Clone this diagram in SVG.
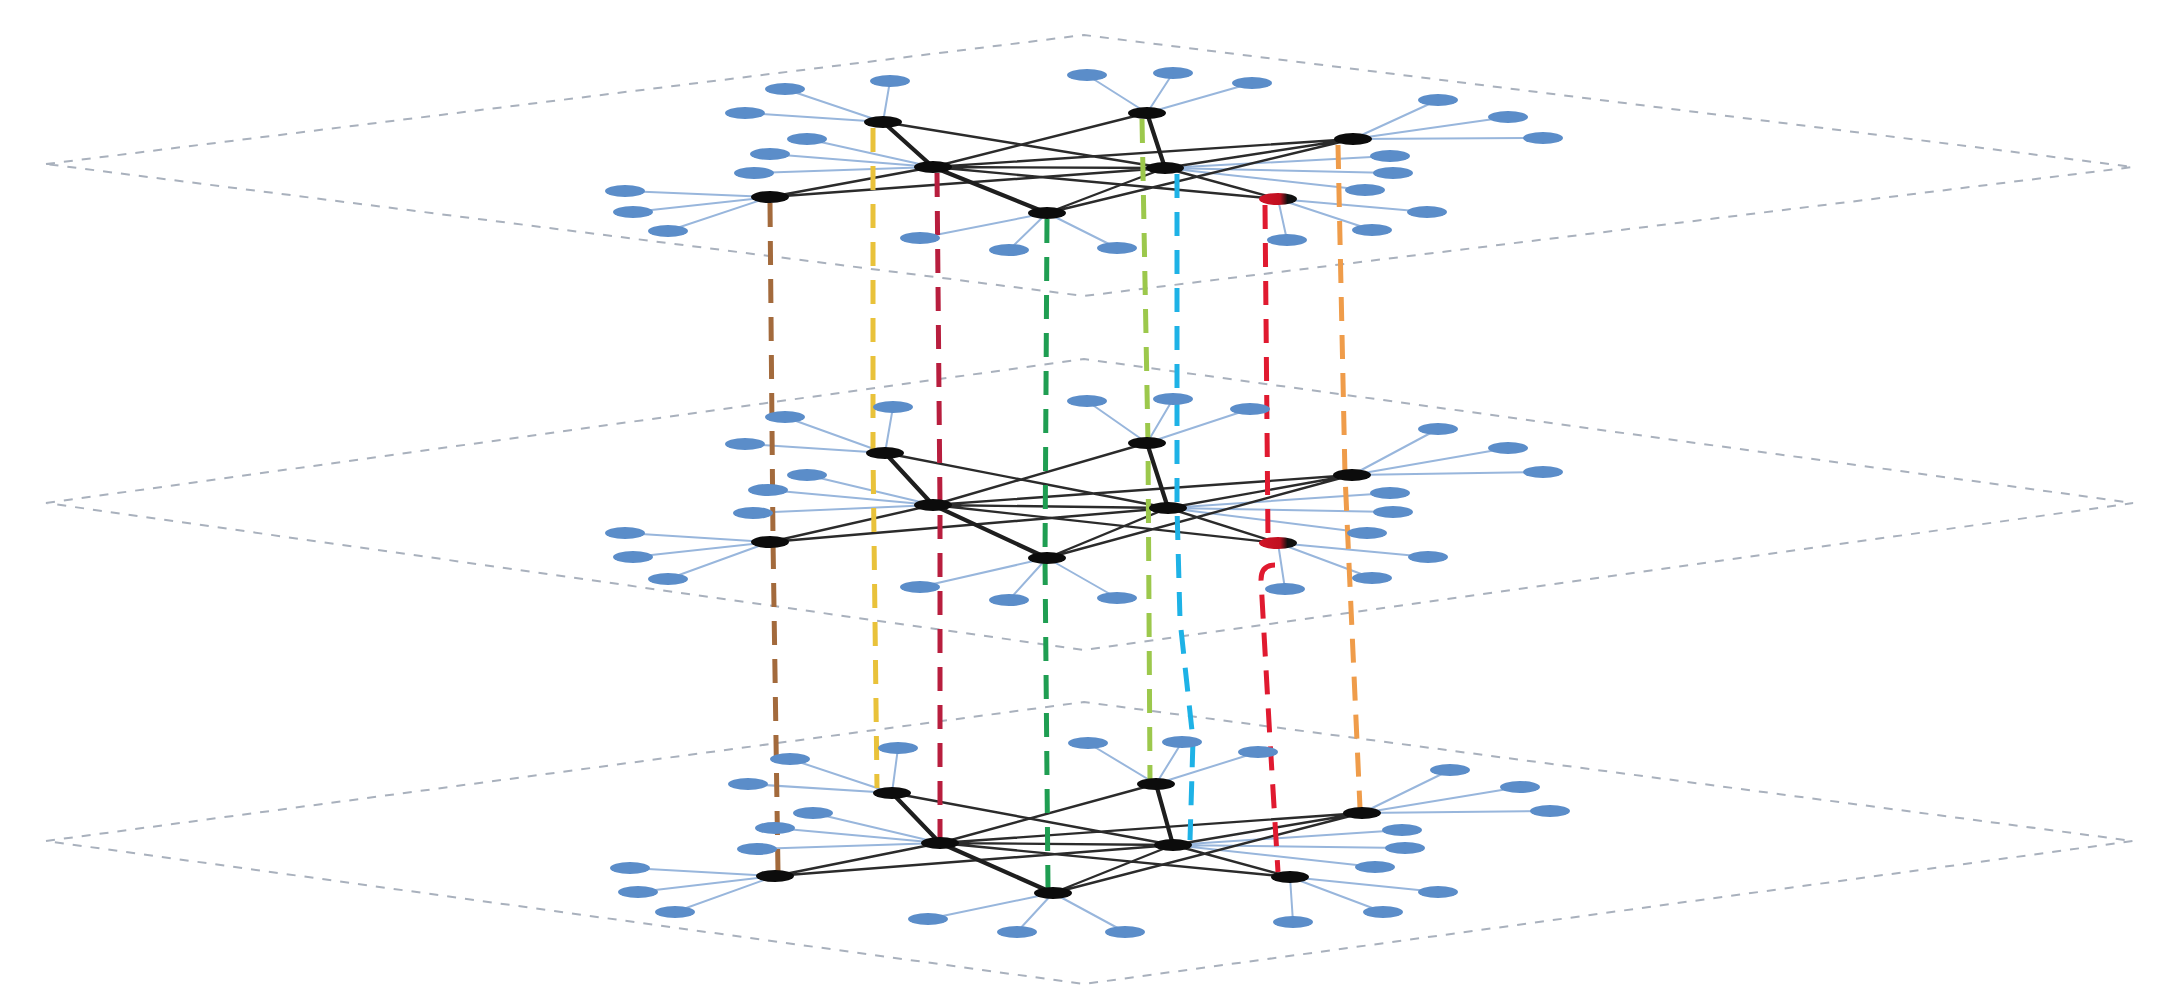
<svg xmlns="http://www.w3.org/2000/svg" width="2179" height="1003" viewBox="0 0 2179 1003">
<style>
.plane{fill:none;stroke:#a9b1bd;stroke-width:2;stroke-dasharray:9 9}
.le{stroke:#98b6dc;stroke-width:2;fill:none}
.he{stroke:#2b2b2b;stroke-width:2.4;fill:none}
.ht{stroke:#1e1e1e;stroke-width:4.2;fill:none}
.vd{fill:none;stroke-width:5;stroke-dasharray:24 14}
.leaf{fill:#5b8dc9}
.hub{fill:#0c0c0c}
</style>
<defs>
<linearGradient id="rg" x1="0" x2="1" y1="0" y2="0"><stop offset="0" stop-color="#d01428"/><stop offset="0.55" stop-color="#c01020"/><stop offset="0.75" stop-color="#111"/></linearGradient>
</defs>
<rect width="2179" height="1003" fill="#fff"/>
<g id="planes">
<polygon class="plane" points="46,164 1084,35 2133,167 1084,296"/>
<polygon class="plane" points="46,503 1084,359 2133,503 1084,650"/>
<polygon class="plane" points="46,841 1084,702 2133,841 1084,984"/>
</g>
<g id="connectors">
<g id="leaf-edges">
<path class="le" d="M883,122L890,81M883,122L785,89M883,122L745,113M933,167L807,139M933,167L770,154M933,167L754,173M770,197L625,191M770,197L633,212M770,197L668,231M1047,213L920,238M1047,213L1009,250M1047,213L1117,248M1147,113L1087,75M1147,113L1173,73M1147,113L1252,83M1165,168L1390,156M1165,168L1393,173M1165,168L1365,190M1278,199L1427,212M1278,199L1372,230M1278,199L1287,240M1353,139L1438,100M1353,139L1508,117M1353,139L1543,138"/>
<path class="le" d="M885,453L893,407M885,453L785,417M885,453L745,444M933,505L807,475M933,505L768,490M933,505L753,513M770,542L625,533M770,542L633,557M770,542L668,579M1047,558L920,587M1047,558L1009,600M1047,558L1117,598M1147,443L1087,401M1147,443L1173,399M1147,443L1250,409M1168,508L1390,493M1168,508L1393,512M1168,508L1367,533M1278,543L1428,557M1278,543L1372,578M1278,543L1285,589M1352,475L1438,429M1352,475L1508,448M1352,475L1543,472"/>
<path class="le" d="M892,793L898,748M892,793L790,759M892,793L748,784M940,843L813,813M940,843L775,828M940,843L757,849M775,876L630,868M775,876L638,892M775,876L675,912M1053,893L928,919M1053,893L1017,932M1053,893L1125,932M1156,784L1088,743M1156,784L1182,742M1156,784L1258,752M1173,845L1402,830M1173,845L1405,848M1173,845L1375,867M1290,877L1438,892M1290,877L1383,912M1290,877L1293,922M1362,813L1450,770M1362,813L1520,787M1362,813L1550,811"/>
</g>
<g id="hub-edges">
<path class="he" d="M883,122L1165,168M933,167L1147,113M933,167L1165,168M933,167L1353,139M933,167L1278,199M770,197L933,167M770,197L1165,168M1047,213L1165,168M1047,213L1353,139M1165,168L1278,199M1165,168L1353,139"/>
<path class="ht" d="M883,122L933,167M933,167L1047,213M1147,113L1165,168"/>
<path class="he" d="M885,453L1168,508M933,505L1147,443M933,505L1168,508M933,505L1352,475M933,505L1278,543M770,542L933,505M770,542L1168,508M1047,558L1168,508M1047,558L1352,475M1168,508L1278,543M1168,508L1352,475"/>
<path class="ht" d="M885,453L933,505M933,505L1047,558M1147,443L1168,508"/>
<path class="he" d="M892,793L1173,845M940,843L1156,784M940,843L1173,845M940,843L1362,813M940,843L1290,877M775,876L940,843M775,876L1173,845M1053,893L1173,845M1053,893L1362,813M1173,845L1290,877M1173,845L1362,813"/>
<path class="ht" d="M892,793L940,843M940,843L1053,893M1156,784L1173,845"/>
</g>
<g id="interlayer">
<polyline class="vd" stroke="#a36a3c" points="770,203 773,540 778,872"/>
<polyline class="vd" stroke="#e9c23a" points="873,128 873,453 877,788"/>
<polyline class="vd" stroke="#b81e3e" points="937,173 940,505 940,838"/>
<polyline class="vd" stroke="#1f9e52" points="1047,219 1045,558 1048,888"/>
<polyline class="vd" stroke="#9cc84c" points="1142,119 1148,443 1150,780"/>
<polyline class="vd" stroke="#1eb2e6" points="1177,174 1177,508 1180,620 1193,740 1190,840"/>
<polyline class="vd" stroke="#e01a30" points="1265,205 1268,538"/>
<path class="vd" stroke="#e01a30" d="M1275,565 Q1261,565 1261,580 L1270,740 L1278,872"/>
<polyline class="vd" stroke="#ef9c4a" points="1338,145 1345,475 1360,808"/>
</g>
</g>
<g id="nodes">
<g id="L1-A"><ellipse class="hub" cx="883" cy="122" rx="19" ry="6"/></g>
<g id="L1-B"><ellipse class="hub" cx="933" cy="167" rx="19" ry="6"/></g>
<g id="L1-C"><ellipse class="hub" cx="770" cy="197" rx="19" ry="6"/></g>
<g id="L1-D"><ellipse class="hub" cx="1047" cy="213" rx="19" ry="6"/></g>
<g id="L1-E"><ellipse class="hub" cx="1147" cy="113" rx="19" ry="6"/></g>
<g id="L1-F"><ellipse class="hub" cx="1165" cy="168" rx="19" ry="6"/></g>
<g id="L1-G"><ellipse cx="1278" cy="199" rx="19" ry="6" fill="url(#rg)"/></g>
<g id="L1-H"><ellipse class="hub" cx="1353" cy="139" rx="19" ry="6"/></g>
<g id="L1-leaves">
<ellipse class="leaf" cx="890" cy="81" rx="20" ry="6"/><ellipse class="leaf" cx="785" cy="89" rx="20" ry="6"/><ellipse class="leaf" cx="745" cy="113" rx="20" ry="6"/>
<ellipse class="leaf" cx="807" cy="139" rx="20" ry="6"/><ellipse class="leaf" cx="770" cy="154" rx="20" ry="6"/><ellipse class="leaf" cx="754" cy="173" rx="20" ry="6"/>
<ellipse class="leaf" cx="625" cy="191" rx="20" ry="6"/><ellipse class="leaf" cx="633" cy="212" rx="20" ry="6"/><ellipse class="leaf" cx="668" cy="231" rx="20" ry="6"/>
<ellipse class="leaf" cx="920" cy="238" rx="20" ry="6"/><ellipse class="leaf" cx="1009" cy="250" rx="20" ry="6"/><ellipse class="leaf" cx="1117" cy="248" rx="20" ry="6"/>
<ellipse class="leaf" cx="1087" cy="75" rx="20" ry="6"/><ellipse class="leaf" cx="1173" cy="73" rx="20" ry="6"/><ellipse class="leaf" cx="1252" cy="83" rx="20" ry="6"/>
<ellipse class="leaf" cx="1390" cy="156" rx="20" ry="6"/><ellipse class="leaf" cx="1393" cy="173" rx="20" ry="6"/><ellipse class="leaf" cx="1365" cy="190" rx="20" ry="6"/>
<ellipse class="leaf" cx="1427" cy="212" rx="20" ry="6"/><ellipse class="leaf" cx="1372" cy="230" rx="20" ry="6"/><ellipse class="leaf" cx="1287" cy="240" rx="20" ry="6"/>
<ellipse class="leaf" cx="1438" cy="100" rx="20" ry="6"/><ellipse class="leaf" cx="1508" cy="117" rx="20" ry="6"/><ellipse class="leaf" cx="1543" cy="138" rx="20" ry="6"/>
</g>
<g id="L2-A"><ellipse class="hub" cx="885" cy="453" rx="19" ry="6"/></g>
<g id="L2-B"><ellipse class="hub" cx="933" cy="505" rx="19" ry="6"/></g>
<g id="L2-C"><ellipse class="hub" cx="770" cy="542" rx="19" ry="6"/></g>
<g id="L2-D"><ellipse class="hub" cx="1047" cy="558" rx="19" ry="6"/></g>
<g id="L2-E"><ellipse class="hub" cx="1147" cy="443" rx="19" ry="6"/></g>
<g id="L2-F"><ellipse class="hub" cx="1168" cy="508" rx="19" ry="6"/></g>
<g id="L2-G"><ellipse cx="1278" cy="543" rx="19" ry="6" fill="url(#rg)"/></g>
<g id="L2-H"><ellipse class="hub" cx="1352" cy="475" rx="19" ry="6"/></g>
<g id="L2-leaves">
<ellipse class="leaf" cx="893" cy="407" rx="20" ry="6"/><ellipse class="leaf" cx="785" cy="417" rx="20" ry="6"/><ellipse class="leaf" cx="745" cy="444" rx="20" ry="6"/>
<ellipse class="leaf" cx="807" cy="475" rx="20" ry="6"/><ellipse class="leaf" cx="768" cy="490" rx="20" ry="6"/><ellipse class="leaf" cx="753" cy="513" rx="20" ry="6"/>
<ellipse class="leaf" cx="625" cy="533" rx="20" ry="6"/><ellipse class="leaf" cx="633" cy="557" rx="20" ry="6"/><ellipse class="leaf" cx="668" cy="579" rx="20" ry="6"/>
<ellipse class="leaf" cx="920" cy="587" rx="20" ry="6"/><ellipse class="leaf" cx="1009" cy="600" rx="20" ry="6"/><ellipse class="leaf" cx="1117" cy="598" rx="20" ry="6"/>
<ellipse class="leaf" cx="1087" cy="401" rx="20" ry="6"/><ellipse class="leaf" cx="1173" cy="399" rx="20" ry="6"/><ellipse class="leaf" cx="1250" cy="409" rx="20" ry="6"/>
<ellipse class="leaf" cx="1390" cy="493" rx="20" ry="6"/><ellipse class="leaf" cx="1393" cy="512" rx="20" ry="6"/><ellipse class="leaf" cx="1367" cy="533" rx="20" ry="6"/>
<ellipse class="leaf" cx="1428" cy="557" rx="20" ry="6"/><ellipse class="leaf" cx="1372" cy="578" rx="20" ry="6"/><ellipse class="leaf" cx="1285" cy="589" rx="20" ry="6"/>
<ellipse class="leaf" cx="1438" cy="429" rx="20" ry="6"/><ellipse class="leaf" cx="1508" cy="448" rx="20" ry="6"/><ellipse class="leaf" cx="1543" cy="472" rx="20" ry="6"/>
</g>
<g id="L3-A"><ellipse class="hub" cx="892" cy="793" rx="19" ry="6"/></g>
<g id="L3-B"><ellipse class="hub" cx="940" cy="843" rx="19" ry="6"/></g>
<g id="L3-C"><ellipse class="hub" cx="775" cy="876" rx="19" ry="6"/></g>
<g id="L3-D"><ellipse class="hub" cx="1053" cy="893" rx="19" ry="6"/></g>
<g id="L3-E"><ellipse class="hub" cx="1156" cy="784" rx="19" ry="6"/></g>
<g id="L3-F"><ellipse class="hub" cx="1173" cy="845" rx="19" ry="6"/></g>
<g id="L3-G"><ellipse class="hub" cx="1290" cy="877" rx="19" ry="6"/></g>
<g id="L3-H"><ellipse class="hub" cx="1362" cy="813" rx="19" ry="6"/></g>
<g id="L3-leaves">
<ellipse class="leaf" cx="898" cy="748" rx="20" ry="6"/><ellipse class="leaf" cx="790" cy="759" rx="20" ry="6"/><ellipse class="leaf" cx="748" cy="784" rx="20" ry="6"/>
<ellipse class="leaf" cx="813" cy="813" rx="20" ry="6"/><ellipse class="leaf" cx="775" cy="828" rx="20" ry="6"/><ellipse class="leaf" cx="757" cy="849" rx="20" ry="6"/>
<ellipse class="leaf" cx="630" cy="868" rx="20" ry="6"/><ellipse class="leaf" cx="638" cy="892" rx="20" ry="6"/><ellipse class="leaf" cx="675" cy="912" rx="20" ry="6"/>
<ellipse class="leaf" cx="928" cy="919" rx="20" ry="6"/><ellipse class="leaf" cx="1017" cy="932" rx="20" ry="6"/><ellipse class="leaf" cx="1125" cy="932" rx="20" ry="6"/>
<ellipse class="leaf" cx="1088" cy="743" rx="20" ry="6"/><ellipse class="leaf" cx="1182" cy="742" rx="20" ry="6"/><ellipse class="leaf" cx="1258" cy="752" rx="20" ry="6"/>
<ellipse class="leaf" cx="1402" cy="830" rx="20" ry="6"/><ellipse class="leaf" cx="1405" cy="848" rx="20" ry="6"/><ellipse class="leaf" cx="1375" cy="867" rx="20" ry="6"/>
<ellipse class="leaf" cx="1438" cy="892" rx="20" ry="6"/><ellipse class="leaf" cx="1383" cy="912" rx="20" ry="6"/><ellipse class="leaf" cx="1293" cy="922" rx="20" ry="6"/>
<ellipse class="leaf" cx="1450" cy="770" rx="20" ry="6"/><ellipse class="leaf" cx="1520" cy="787" rx="20" ry="6"/><ellipse class="leaf" cx="1550" cy="811" rx="20" ry="6"/>
</g>
</g>
</svg>
